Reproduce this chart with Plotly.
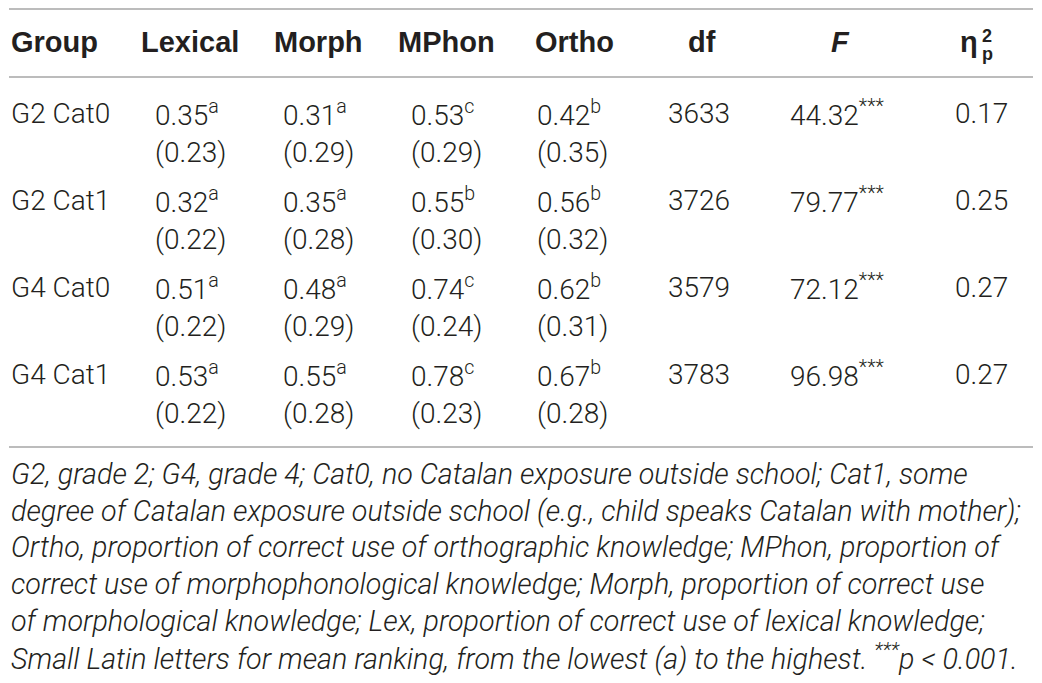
import plotly.graph_objects as go

# table values
groups = ["G2 Cat0", "G2 Cat1", "G4 Cat0", "G4 Cat1"]
lexical_mean = [0.35, 0.32, 0.51, 0.53]
lexical_sd = [0.23, 0.22, 0.22, 0.22]
lexical_rank = ["a", "a", "a", "a"]
morph_mean = [0.31, 0.35, 0.48, 0.55]
morph_sd = [0.29, 0.28, 0.29, 0.28]
morph_rank = ["a", "a", "a", "a"]
mphon_mean = [0.53, 0.55, 0.74, 0.78]
mphon_sd = [0.29, 0.30, 0.24, 0.23]
mphon_rank = ["c", "b", "c", "c"]
ortho_mean = [0.42, 0.56, 0.62, 0.67]
ortho_sd = [0.35, 0.32, 0.31, 0.28]
ortho_rank = ["b", "b", "b", "b"]
df_values = [3633, 3726, 3579, 3783]
f_values = [44.32, 79.77, 72.12, 96.98]
eta_values = [0.17, 0.25, 0.27, 0.27]
headers = ["Group", "Lexical", "Morph", "MPhon", "Ortho", "df", "F", "η"]
footnote_lines = [
    "G2, grade 2; G4, grade 4; Cat0, no Catalan exposure outside school; Cat1, some",
    "degree of Catalan exposure outside school (e.g., child speaks Catalan with mother);",
    "Ortho, proportion of correct use of orthographic knowledge; MPhon, proportion of",
    "correct use of morphophonological knowledge; Morph, proportion of correct use",
    "of morphological knowledge; Lex, proportion of correct use of lexical knowledge;",
    "Small Latin letters for mean ranking, from the lowest (a) to the highest. <sup>***</sup>p &lt; 0.001.",
]

W, H = 1042, 683
OFF = 8  # page body margin
TXT = "#231f20"
RULE = "#a6a6a6"
BODY = dict(family="Roboto, Liberation Sans, sans-serif", size=28, color=TXT, weight=300)
HEAD = dict(family="Liberation Sans, Arial, sans-serif", size=29, color=TXT, weight="bold")

head_x = [9, 190, 318, 446, 574, 702, 840, 969]
val_x = [9, 153, 281, 409, 535, 666, 788, 953]
head_y = 42
row_y = [113, 200, 287, 374]
sd_dy = 39
foot_y = [474, 511, 547, 584, 621, 657]

fig = go.Figure()
ann = []


def add(x, y, text, font, anchor="left"):
    ann.append(dict(x=x, y=y, xref="x", yref="y", text=text, showarrow=False,
                    xanchor=anchor, yanchor="middle", font=font))


# header
for i, h in enumerate(headers):
    if h == "F":
        add(head_x[i], head_y, "<i>F</i>", HEAD, "center")
    elif h == "η":
        add(head_x[i], head_y, "η", HEAD, "center")
        add(head_x[i] + 18, head_y - 6, "2", dict(HEAD, size=18), "center")
        add(head_x[i] + 18, head_y + 12, "p", dict(HEAD, size=18), "center")
    else:
        add(head_x[i], head_y, h, HEAD, "left" if i == 0 else "center")

# body
mean_cols = [(lexical_mean, lexical_sd, lexical_rank), (morph_mean, morph_sd, morph_rank),
             (mphon_mean, mphon_sd, mphon_rank), (ortho_mean, ortho_sd, ortho_rank)]
for r, g in enumerate(groups):
    y = row_y[r]
    add(val_x[0], y, g, BODY)
    for c, (m, s, k) in enumerate(mean_cols):
        add(val_x[c + 1], y, f"{m[r]:.2f}<sup>{k[r]}</sup>", BODY)
        add(val_x[c + 1], y + sd_dy, f"({s[r]:.2f})", BODY)
    add(val_x[5], y, f"{df_values[r]}", BODY)
    add(val_x[6], y, f"{f_values[r]:.2f}<sup>***</sup>", BODY)
    add(val_x[7], y, f"{eta_values[r]:.2f}", BODY)

# footnote
for y, line in zip(foot_y, footnote_lines):
    add(val_x[0], y, line, dict(BODY, style="italic", size=28.7))

shapes = [dict(type="line", xref="x", yref="y", x0=9, x1=1033, y0=yy, y1=yy,
               line=dict(color=RULE, width=1.5)) for yy in (9, 77, 447)]

fig.update_layout(
    width=W, height=H,
    margin=dict(l=0, r=0, t=0, b=0),
    paper_bgcolor="white", plot_bgcolor="white",
    xaxis=dict(range=[OFF, W + OFF], visible=False, fixedrange=True),
    yaxis=dict(range=[H + OFF, OFF], visible=False, fixedrange=True),
    annotations=ann, shapes=shapes, showlegend=False,
)
fig.write_html("out.html")
